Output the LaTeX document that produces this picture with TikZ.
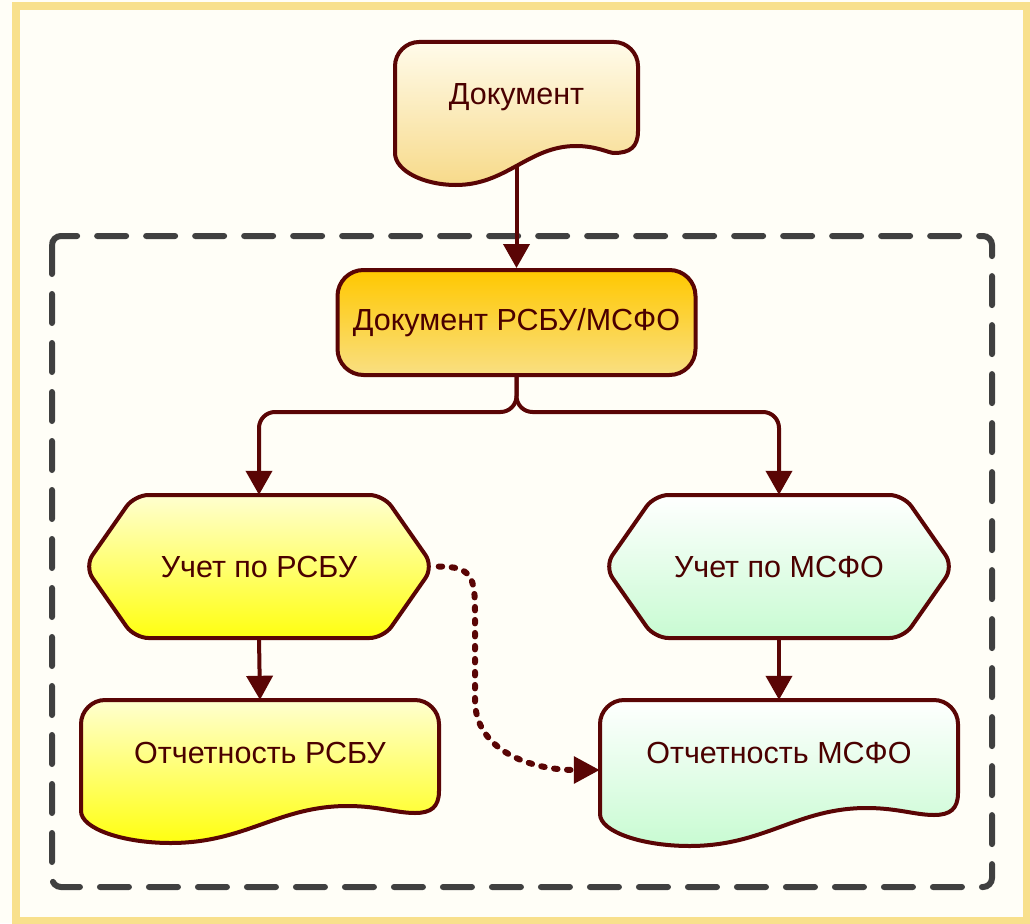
\documentclass[tikz,border=0pt]{standalone}
\usepackage{fontspec}
\setmainfont{Liberation Sans}
\usetikzlibrary{arrows.meta,backgrounds,calc}
\definecolor{bgc}{HTML}{FFFEF7}
\definecolor{framec}{HTML}{F8E08C}
\definecolor{dashc}{HTML}{404040}
\definecolor{lnc}{HTML}{5A0505}
\definecolor{txc}{HTML}{4A0000}
\definecolor{docTop}{HTML}{FFFBEA}
\definecolor{docBot}{HTML}{F7DA8A}
\definecolor{mainTop}{HTML}{FFC800}
\definecolor{mainBot}{HTML}{F9DF82}
\definecolor{ylwTop}{HTML}{FFFFD0}
\definecolor{ylwBot}{HTML}{FFFF10}
\definecolor{grnTop}{HTML}{FFFFFF}
\definecolor{grnBot}{HTML}{C8FBD2}
% L T R BR BL style
\newcommand\docshape[6]{%
  \path[shapeline,#6] (#1,{#2+24}) .. controls (#1,{#2+11}) and ({#1+11},#2) .. ({#1+24},#2)
   -- ({#3-24},#2) .. controls ({#3-11},#2) and (#3,{#2+11}) .. (#3,{#2+24})
   -- (#3,{#4-22}) .. controls (#3,{#4-6}) and ({#3-8},#4) .. ({#3-24},#4)
   .. controls ({#3-0.12*(#3-#1)},#4) and ({#3-0.17*(#3-#1)},{#4-7}) .. ({#1+0.745*(#3-#1)},{#4-7})
   .. controls ({#1+0.55*(#3-#1)},{#4-7}) and ({#1+0.46*(#3-#1)},#5) .. ({#1+0.25*(#3-#1)},#5)
   .. controls ({#1+0.12*(#3-#1)},#5) and (#1,{#5-14}) .. (#1,{#5-32}) -- cycle;}
\newcommand\hexshape[6]{%
  \path[shapeline,rounded corners=14pt,#6] (#1,{(#2+#4)/2}) -- ({#1+#5},#2) -- ({#3-#5},#2)
   -- (#3,{(#2+#4)/2}) -- ({#3-#5},#4) -- ({#1+#5},#4) -- cycle;}
\tikzset{
  shapeline/.style={draw=lnc,line width=4pt},
  docfill/.style={top color=docTop,bottom color=docBot},
  ylwfill/.style={top color=ylwTop,bottom color=ylwBot},
  grnfill/.style={top color=grnTop,bottom color=grnBot},
  lbl/.style={font=\fontsize{30.5}{34}\selectfont,text=txc,inner sep=0pt},
  arr/.style={draw=lnc,line width=4pt,-{Triangle[length=24pt,width=26pt]}},
  dotarr/.style={draw=lnc,line width=6pt,line cap=round,dash pattern=on 3.5pt off 9.5pt,-{Triangle[length=26pt,width=26pt]}}
}
\begin{document}
\begin{tikzpicture}[x=1pt,y=-1pt]
\useasboundingbox (0,0) rectangle (1030,923);
% nodes
\node[lbl,minimum width=243pt,minimum height=110pt] (doc) at (516.5,97) {Документ};
\node[lbl,draw=lnc,line width=4pt,rounded corners=26pt,top color=mainTop,bottom color=mainBot,minimum width=358pt,minimum height=105pt] (main) at (516.5,322.5) {Документ РСБУ/МСФО};
\node[lbl,minimum width=349pt,minimum height=143pt] (ucr) at (259,566.5) {Учет по РСБУ};
\node[lbl,minimum width=349pt,minimum height=143pt] (ucm) at (779,566.5) {Учет по МСФО};
\node[lbl,minimum width=358pt,minimum height=105pt] (otr) at (260,752.5) {Отчетность РСБУ};
\node[lbl,minimum width=358pt,minimum height=105pt] (otm) at (779,752.5) {Отчетность МСФО};
\begin{scope}[on background layer]
  \fill[bgc] (0,0) rectangle (1030,923);
  \draw[framec,line width=8pt] (16,6.5) rectangle (1026.5,921);
  \draw[dashc,line width=6pt,line cap=round,dash pattern=on 29pt off 20pt,rounded corners=9pt] (52,236) rectangle (992,887);
  \docshape{395}{42}{638}{153}{185}{docfill}
  \hexshape{84.5}{495}{433.5}{638}{50}{ylwfill}
  \hexshape{604.5}{495}{953.5}{638}{50}{grnfill}
  \docshape{81}{700}{439}{813}{843}{ylwfill}
  \docshape{600}{700}{958}{815}{846}{grnfill}
\end{scope}
% connectors
\draw[arr,shorten <=15pt] (doc.south) -- (main.north);
\draw[arr,rounded corners=16pt] (main.south) -- ++(0,35) -| (ucr.north);
\draw[arr,rounded corners=16pt] (main.south) -- ++(0,35) -| (ucm.north);
\draw[arr] (ucr.south) -- (otr.north);
\draw[arr] (ucm.south) -- (otm.north);
\coordinate (dm1) at (475,612);
\coordinate (dm2) at (475,700);
\draw[dotarr] ([xshift=5pt]ucr.east) .. controls +(33,0) and +(0,-35) .. (dm1) -- (dm2)
  .. controls +(0,50) and +(-70,0) .. ([yshift=-17.5pt]otm.west);
\end{tikzpicture}
\end{document}
